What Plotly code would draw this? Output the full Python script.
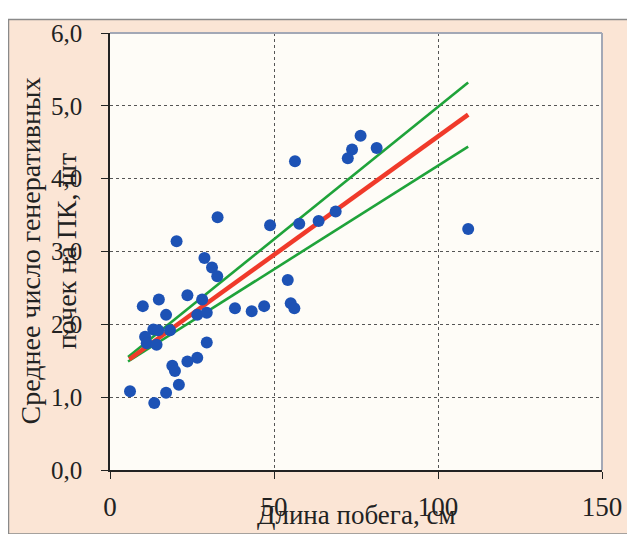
import plotly.graph_objects as go

# Data
shoot_len = [56.4, 76.4, 73.8, 72.5, 81.3, 48.8, 57.7, 63.6, 68.8, 109.2,
             54.2, 55.1, 56.2, 32.8, 20.3, 28.8, 31.1, 32.7, 23.6, 14.9,
             10.0, 28.1, 38.1, 43.2, 47.0, 17.1, 26.6, 29.5, 13.2, 14.7,
             18.3, 10.7, 11.2, 14.2, 29.5, 26.6, 23.6, 19.0, 19.8, 21.0,
             17.1, 6.1, 13.5]
buds = [4.24, 4.59, 4.40, 4.28, 4.42, 3.36, 3.38, 3.42, 3.55, 3.31,
        2.61, 2.29, 2.22, 3.47, 3.14, 2.91, 2.78, 2.66, 2.40, 2.34,
        2.25, 2.34, 2.22, 2.18, 2.25, 2.13, 2.13, 2.16, 1.93, 1.92,
        1.92, 1.83, 1.74, 1.72, 1.75, 1.54, 1.49, 1.43, 1.36, 1.17,
        1.06, 1.08, 0.92]

fit_x = [5.9, 109.2]
fit_y = [1.52, 4.88]
upper_x = [5.5, 109.2]
upper_y = [1.55, 5.32]
lower_x = [5.5, 109.2]
lower_y = [1.49, 4.44]

x_ticks = [0, 50, 100, 150]
y_ticks = [0, 1, 2, 3, 4, 5, 6]
x_title = "Длина побега, см"
y_title = "Среднее число генеративных<br>почек на ПК, шт"

OFF = 8  # page body margin
W, H = 635 - OFF, 534 - OFF
L, T = 110 - OFF, 24 - OFF
R = W - (602 - OFF)
B = H - (474 - OFF)
pw, ph = W - L - R, H - T - B

def px_x(p):  # page pixel -> paper x
    return (p - OFF - L) / pw

def px_y(p):  # page pixel -> paper y
    return (H - B - (p - OFF)) / ph

FONT = "Liberation Serif"
TXT = "#222222"

fig = go.Figure()
fig.add_trace(go.Scatter(x=upper_x, y=upper_y, mode="lines",
                         line=dict(color="#1fa33a", width=2.6), hoverinfo="skip"))
fig.add_trace(go.Scatter(x=lower_x, y=lower_y, mode="lines",
                         line=dict(color="#1fa33a", width=2.6), hoverinfo="skip"))
fig.add_trace(go.Scatter(x=fit_x, y=fit_y, mode="lines",
                         line=dict(color="#f03a2a", width=4.5), hoverinfo="skip"))
fig.add_trace(go.Scatter(x=shoot_len, y=buds, mode="markers",
                         marker=dict(color="#1d52b5", size=12, line=dict(width=0))))

shapes = [
    # outer frame
    dict(type="rect", xref="paper", yref="paper", layer="below",
         x0=px_x(8.5), x1=px_x(640), y0=px_y(540), y1=px_y(10),
         fillcolor="#fbe5d5", line=dict(color="#8a8a8a", width=1.5)),
    # plot area
    dict(type="rect", xref="paper", yref="paper", layer="below",
         x0=0, x1=1, y0=0, y1=1, fillcolor="#fefcf7", line=dict(width=0)),
    # top & right border
    dict(type="line", xref="paper", yref="paper", layer="above",
         x0=0, x1=1, y0=1, y1=1, line=dict(color="#a3a8b6", width=2)),
    dict(type="line", xref="paper", yref="paper", layer="above",
         x0=1, x1=1, y0=0, y1=1, line=dict(color="#a3a8b6", width=2)),
]

annotations = [
    dict(text=x_title, xref="paper", yref="paper", x=0.5, y=px_y(520),
         xanchor="center", yanchor="middle", showarrow=False,
         font=dict(family=FONT, size=27, color=TXT)),
    dict(text=y_title, xref="paper", yref="paper", x=px_x(48), y=0.5,
         xanchor="center", yanchor="middle", showarrow=False, textangle=-90,
         font=dict(family=FONT, size=28, color=TXT)),
]

fig.update_layout(
    width=W, height=H,
    margin=dict(l=L, r=R, t=T, b=B, pad=0),
    paper_bgcolor="white",
    plot_bgcolor="rgba(0,0,0,0)",
    showlegend=False,
    separators=", ",
    shapes=shapes,
    annotations=annotations,
    xaxis=dict(range=[0, 150], tickvals=x_ticks, ticks="outside", ticklen=7,
               tickcolor="#222", showline=True, linecolor="#222", linewidth=1.5,
               showgrid=True, gridcolor="#555", griddash="dot", gridwidth=1,
               zeroline=False, ticklabelstandoff=5,
               tickfont=dict(family=FONT, size=27, color=TXT)),
    yaxis=dict(range=[0, 6], tickvals=y_ticks, tickformat=".1f", ticks="outside",
               ticklen=7, tickcolor="#222", showline=True, linecolor="#222",
               linewidth=1.5, showgrid=True, gridcolor="#555", griddash="dot",
               gridwidth=1, zeroline=False, ticklabelstandoff=14,
               tickfont=dict(family=FONT, size=25, color=TXT)),
)

fig.write_html("out.html")
